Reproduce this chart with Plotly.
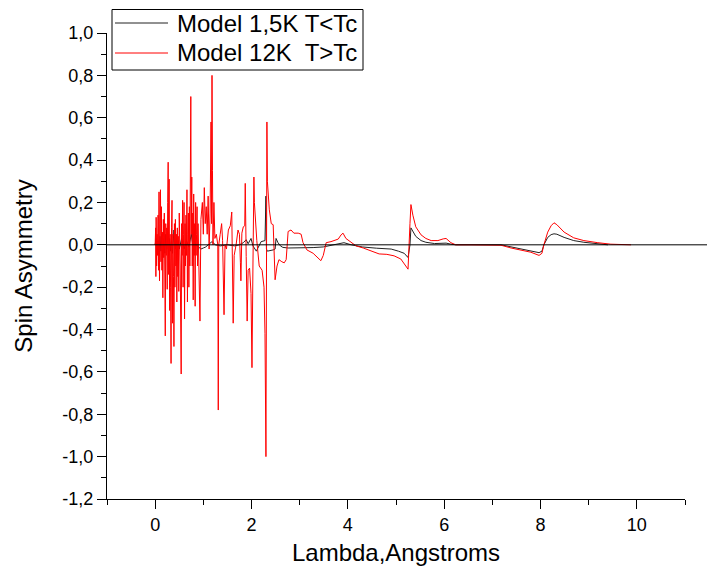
import plotly.graph_objects as go

# ---------------- data ----------------
red_x = [0.00, 0.01, 0.015, 0.02, 0.03, 0.04, 0.05, 0.06, 0.07, 0.08, 0.09, 0.10,
         0.11, 0.12, 0.13, 0.14, 0.15, 0.16, 0.17, 0.18, 0.19, 0.20, 0.21, 0.22,
         0.23, 0.24, 0.25, 0.26, 0.27, 0.28, 0.29, 0.30, 0.31, 0.32, 0.33, 0.34,
         0.35, 0.36, 0.37, 0.38, 0.39, 0.40, 0.41, 0.42, 0.43, 0.44, 0.45, 0.46,
         0.47, 0.48, 0.49, 0.50, 0.52, 0.54, 0.55, 0.56, 0.57, 0.58, 0.59, 0.60,
         0.61, 0.62, 0.63, 0.64, 0.65, 0.66, 0.67, 0.68, 0.69, 0.70, 0.71, 0.72,
         0.73, 0.74, 0.75, 0.76, 0.77, 0.78, 0.79, 0.80, 0.81, 0.82, 0.83, 0.84,
         0.85, 0.86, 0.87, 0.88, 0.89, 0.93, 0.95, 0.98, 1.00, 1.02, 1.04, 1.06,
         1.08, 1.10, 1.12, 1.14, 1.16, 1.17, 1.18, 1.19, 1.20, 1.22, 1.24, 1.27,
         1.30, 1.31, 1.32, 1.35, 1.38, 1.40, 1.43, 1.45, 1.48, 1.52, 1.56, 1.59,
         1.62, 1.64, 1.68, 1.72, 1.75, 1.77, 1.78, 1.80, 1.83, 1.86, 1.87, 1.89,
         1.91, 1.93, 1.96, 1.99, 2.01, 2.03, 2.05, 2.06, 2.08, 2.11, 2.16, 2.22,
         2.26, 2.28, 2.30, 2.32, 2.33, 2.37, 2.41, 2.45, 2.47, 2.49, 2.53, 2.57,
         2.63, 2.68, 2.72, 2.74, 2.76, 2.82, 2.88, 2.97, 3.03, 3.07, 3.15, 3.28,
         3.40, 3.44, 3.49, 3.55, 3.65, 3.80, 3.86, 3.90, 3.96, 4.07, 4.17, 4.32,
         4.48, 4.65, 4.81, 4.96, 5.10, 5.21, 5.25, 5.29, 5.31, 5.35, 5.41, 5.52,
         5.62, 5.73, 5.87, 5.98, 6.04, 6.14, 6.24, 6.56, 7.18, 7.39, 7.59, 7.80,
         7.97, 8.03, 8.07, 8.15, 8.22, 8.28, 8.34, 8.49, 8.69, 8.90, 9.19, 9.46,
         9.88]
red_y = [0.00, 0.08, -0.15, 0.13, -0.10, 0.05, -0.05, 0.14, -0.12, 0.25, -0.17, 0.10,
         0.26, -0.08, 0.18, -0.12, 0.06, -0.25, 0.12, -0.06, 0.15, -0.21, -0.43, 0.10,
         -0.05, 0.08, -0.21, 0.20, 0.39, -0.14, 0.31, -0.31, 0.05, -0.20, -0.56, 0.08,
         0.21, -0.37, 0.05, -0.15, -0.48, 0.10, -0.20, 0.12, -0.10, 0.05, -0.27, 0.08,
         -0.15, 0.04, -0.22, 0.15, -0.10, -0.61, 0.10, -0.05, 0.21, -0.20, 0.05, 0.20,
         -0.35, 0.10, -0.10, 0.14, -0.05, 0.26, -0.27, 0.05, 0.15, -0.20, 0.18, -0.10,
         0.30, 0.70, 0.05, 0.32, -0.10, 0.15, -0.26, 0.24, -0.05, 0.10, -0.29, 0.20,
         -0.05, 0.05, 0.18, -0.10, 0.10, -0.36, 0.12, 0.20, 0.05, 0.27, 0.10, 0.18,
         0.05, 0.23, -0.02, 0.15, 0.58, 0.10, 0.80, 0.35, 0.00, 0.20, 0.03, 0.05,
         0.00, -0.78, 0.00, 0.05, 0.10, 0.02, -0.33, 0.00, -0.02, 0.07, 0.09, 0.155,
         -0.37, -0.05, 0.00, 0.07, 0.05, -0.085, -0.17, 0.055, 0.085, 0.09, 0.29, -0.055,
         -0.36, -0.12, -0.11, -0.23, -0.58, -0.10, 0.32, 0.20, 0.10, 0.02, -0.10, -0.12,
         -0.20, -0.42, -1.00, 0.58, 0.30, 0.165, 0.10, 0.095, -0.02, -0.165, -0.10, -0.07,
         -0.08, -0.085, -0.07, -0.01, 0.063, 0.07, 0.055, 0.055, 0.05, 0.01, -0.024, -0.04,
         -0.067, -0.075, -0.05, 0.01, 0.015, 0.027, 0.047, 0.055, 0.03, 0.01, -0.005, -0.015,
         -0.03, -0.043, -0.045, -0.052, -0.067, -0.10, -0.115, 0.10, 0.19, 0.14, 0.085, 0.047,
         0.03, 0.02, 0.02, 0.028, 0.03, 0.01, 0.00, 0.00, -0.002, -0.015, -0.025, -0.035,
         -0.05, -0.04, 0.00, 0.06, 0.09, 0.104, 0.095, 0.06, 0.033, 0.02, 0.01, 0.003,
         0.00]

black_x = [0.00, 0.02, 0.04, 0.06, 0.08, 0.10, 0.12, 0.14, 0.16, 0.18, 0.20, 0.22,
           0.24, 0.26, 0.28, 0.30, 0.32, 0.34, 0.36, 0.38, 0.39, 0.42, 0.44, 0.46,
           0.48, 0.50, 0.55, 0.60, 0.65, 0.70, 0.75, 0.78, 0.80, 0.85, 0.90, 0.95,
           1.00, 1.05, 1.10, 1.18, 1.25, 1.35, 1.50, 1.65, 1.75, 1.83, 1.89, 1.93,
           1.99, 2.03, 2.10, 2.14, 2.20, 2.28, 2.30, 2.31, 2.33, 2.45, 2.49, 2.51,
           2.55, 2.60, 2.65, 2.76, 3.03, 3.28, 3.49, 3.65, 3.80, 3.92, 4.07, 4.30,
           4.60, 4.90, 5.05, 5.17, 5.25, 5.29, 5.31, 5.35, 5.41, 5.52, 5.62, 5.80,
           6.04, 6.14, 6.24, 7.18, 7.40, 7.60, 7.80, 7.97, 8.03, 8.07, 8.15, 8.22,
           8.28, 8.34, 8.49, 8.69, 8.90, 9.19, 9.40]
black_y = [0.00, 0.03, -0.04, 0.02, -0.05, 0.04, -0.03, 0.05, -0.06, 0.03, -0.04, 0.05,
           -0.02, 0.04, -0.05, 0.03, -0.03, 0.02, -0.04, 0.06, 0.07, -0.02, 0.03, -0.03,
           0.02, -0.02, 0.03, -0.02, 0.02, -0.01, 0.05, 0.00, 0.02, 0.00, -0.01, -0.02,
           -0.015, -0.01, 0.00, 0.015, 0.00, -0.005, 0.00, -0.005, 0.00, 0.01, 0.024, 0.005,
           0.03, -0.005, -0.03, -0.01, 0.015, 0.02, 0.23, -0.02, -0.03, -0.024, -0.02, 0.03,
           0.01, -0.005, -0.012, -0.015, -0.015, -0.013, -0.01, -0.003, 0.005, 0.01, 0.00, -0.01,
           -0.016, -0.02, -0.03, -0.04, -0.06, 0.00, 0.08, 0.065, 0.04, 0.02, 0.012, 0.006,
           0.008, 0.003, 0.00, 0.00, -0.01, -0.018, -0.028, -0.037, -0.03, 0.00, 0.035, 0.048,
           0.052, 0.05, 0.035, 0.02, 0.012, 0.004, 0.00]

series_names = ["Model 1,5K T<Tc", "Model 12K\u00a0 T>Tc"]
series_colors = ["#222222", "#ff0000"]

y_tickvals = [1.0, 0.8, 0.6, 0.4, 0.2, 0.0, -0.2, -0.4, -0.6, -0.8, -1.0, -1.2]
y_ticktext = ["1,0", "0,8", "0,6", "0,4", "0,2", "0,0", "-0,2", "-0,4", "-0,6",
              "-0,8", "-1,0", "-1,2"]
x_tickvals = [0, 2, 4, 6, 8, 10]

FONT = "Liberation Sans, Arial, sans-serif"
# the page body has an 8 px margin, so the figure is 8 px smaller than the window
W, H = 707, 567
L, R, T, B = 99, 30, 25, 76
PW, PH = W - L - R, H - T - B


def px_x(sx):  # window x -> plot paper fraction
    return (sx - 8 - L) / PW


def px_y(sy):  # window y -> plot paper fraction
    return (H - B + 8 - sy) / PH


fig = go.Figure()
fig.add_trace(go.Scatter(x=black_x, y=black_y, mode="lines", name=series_names[0],
                         line=dict(color=series_colors[0], width=1), showlegend=False))
fig.add_trace(go.Scatter(x=red_x, y=red_y, mode="lines", name=series_names[1],
                         line=dict(color=series_colors[1], width=1), showlegend=False))

# zero line, extending past the right end of the axis as in the reference
y_lo, y_hi = -1.2, 1.0
fig.add_shape(type="line", xref="paper", yref="paper",
              x0=0, x1=(W - L) / PW,
              y0=(0 - y_lo) / (y_hi - y_lo), y1=(0 - y_lo) / (y_hi - y_lo),
              line=dict(color="#000000", width=1))

# legend box drawn in the style of the reference
fig.add_shape(type="rect", xref="paper", yref="paper",
              x0=px_x(112), x1=px_x(363), y0=px_y(70), y1=px_y(9.5),
              line=dict(color="black", width=1), fillcolor="white", layer="above")
for i, (name, col) in enumerate(zip(series_names, series_colors)):
    sy = 23 + 30 * i
    fig.add_shape(type="line", xref="paper", yref="paper",
                  x0=px_x(115), x1=px_x(168), y0=px_y(sy), y1=px_y(sy),
                  line=dict(color=col, width=1), layer="above")
    fig.add_annotation(xref="paper", yref="paper", x=px_x(175), y=px_y(sy),
                       xanchor="left", yanchor="middle", showarrow=False,
                       text=name, font=dict(size=24, family=FONT, color="black"))

fig.update_layout(
    width=W, height=H,
    margin=dict(l=L, r=R, t=T, b=B, autoexpand=False),
    paper_bgcolor="white", plot_bgcolor="white",
    font=dict(family=FONT, color="black"),
    showlegend=False,
    xaxis=dict(range=[-1, 11], tickvals=x_tickvals, ticks="outside", ticklen=9,
               tickwidth=1, tickcolor="black", showline=True, linecolor="black",
               linewidth=1, showgrid=False, zeroline=False,
               tickfont=dict(size=18, family=FONT),
               minor=dict(dtick=1, tick0=-1, ticks="outside", ticklen=5,
                          tickcolor="black", showgrid=False),
               title=dict(text="Lambda,Angstroms", font=dict(size=24, family=FONT),
                          standoff=10)),
    yaxis=dict(range=[y_lo, y_hi], tickvals=y_tickvals, ticktext=y_ticktext,
               ticks="outside", ticklen=9, tickwidth=1, tickcolor="black",
               showline=True, linecolor="black", linewidth=1, showgrid=False,
               zeroline=False, tickfont=dict(size=18, family=FONT),
               minor=dict(dtick=0.1, tick0=0, ticks="outside", ticklen=5,
                          tickcolor="black", showgrid=False),
               title=dict(text="Spin Asymmetry", font=dict(size=24, family=FONT),
                          standoff=22)),
)

fig.write_html("out.html")
